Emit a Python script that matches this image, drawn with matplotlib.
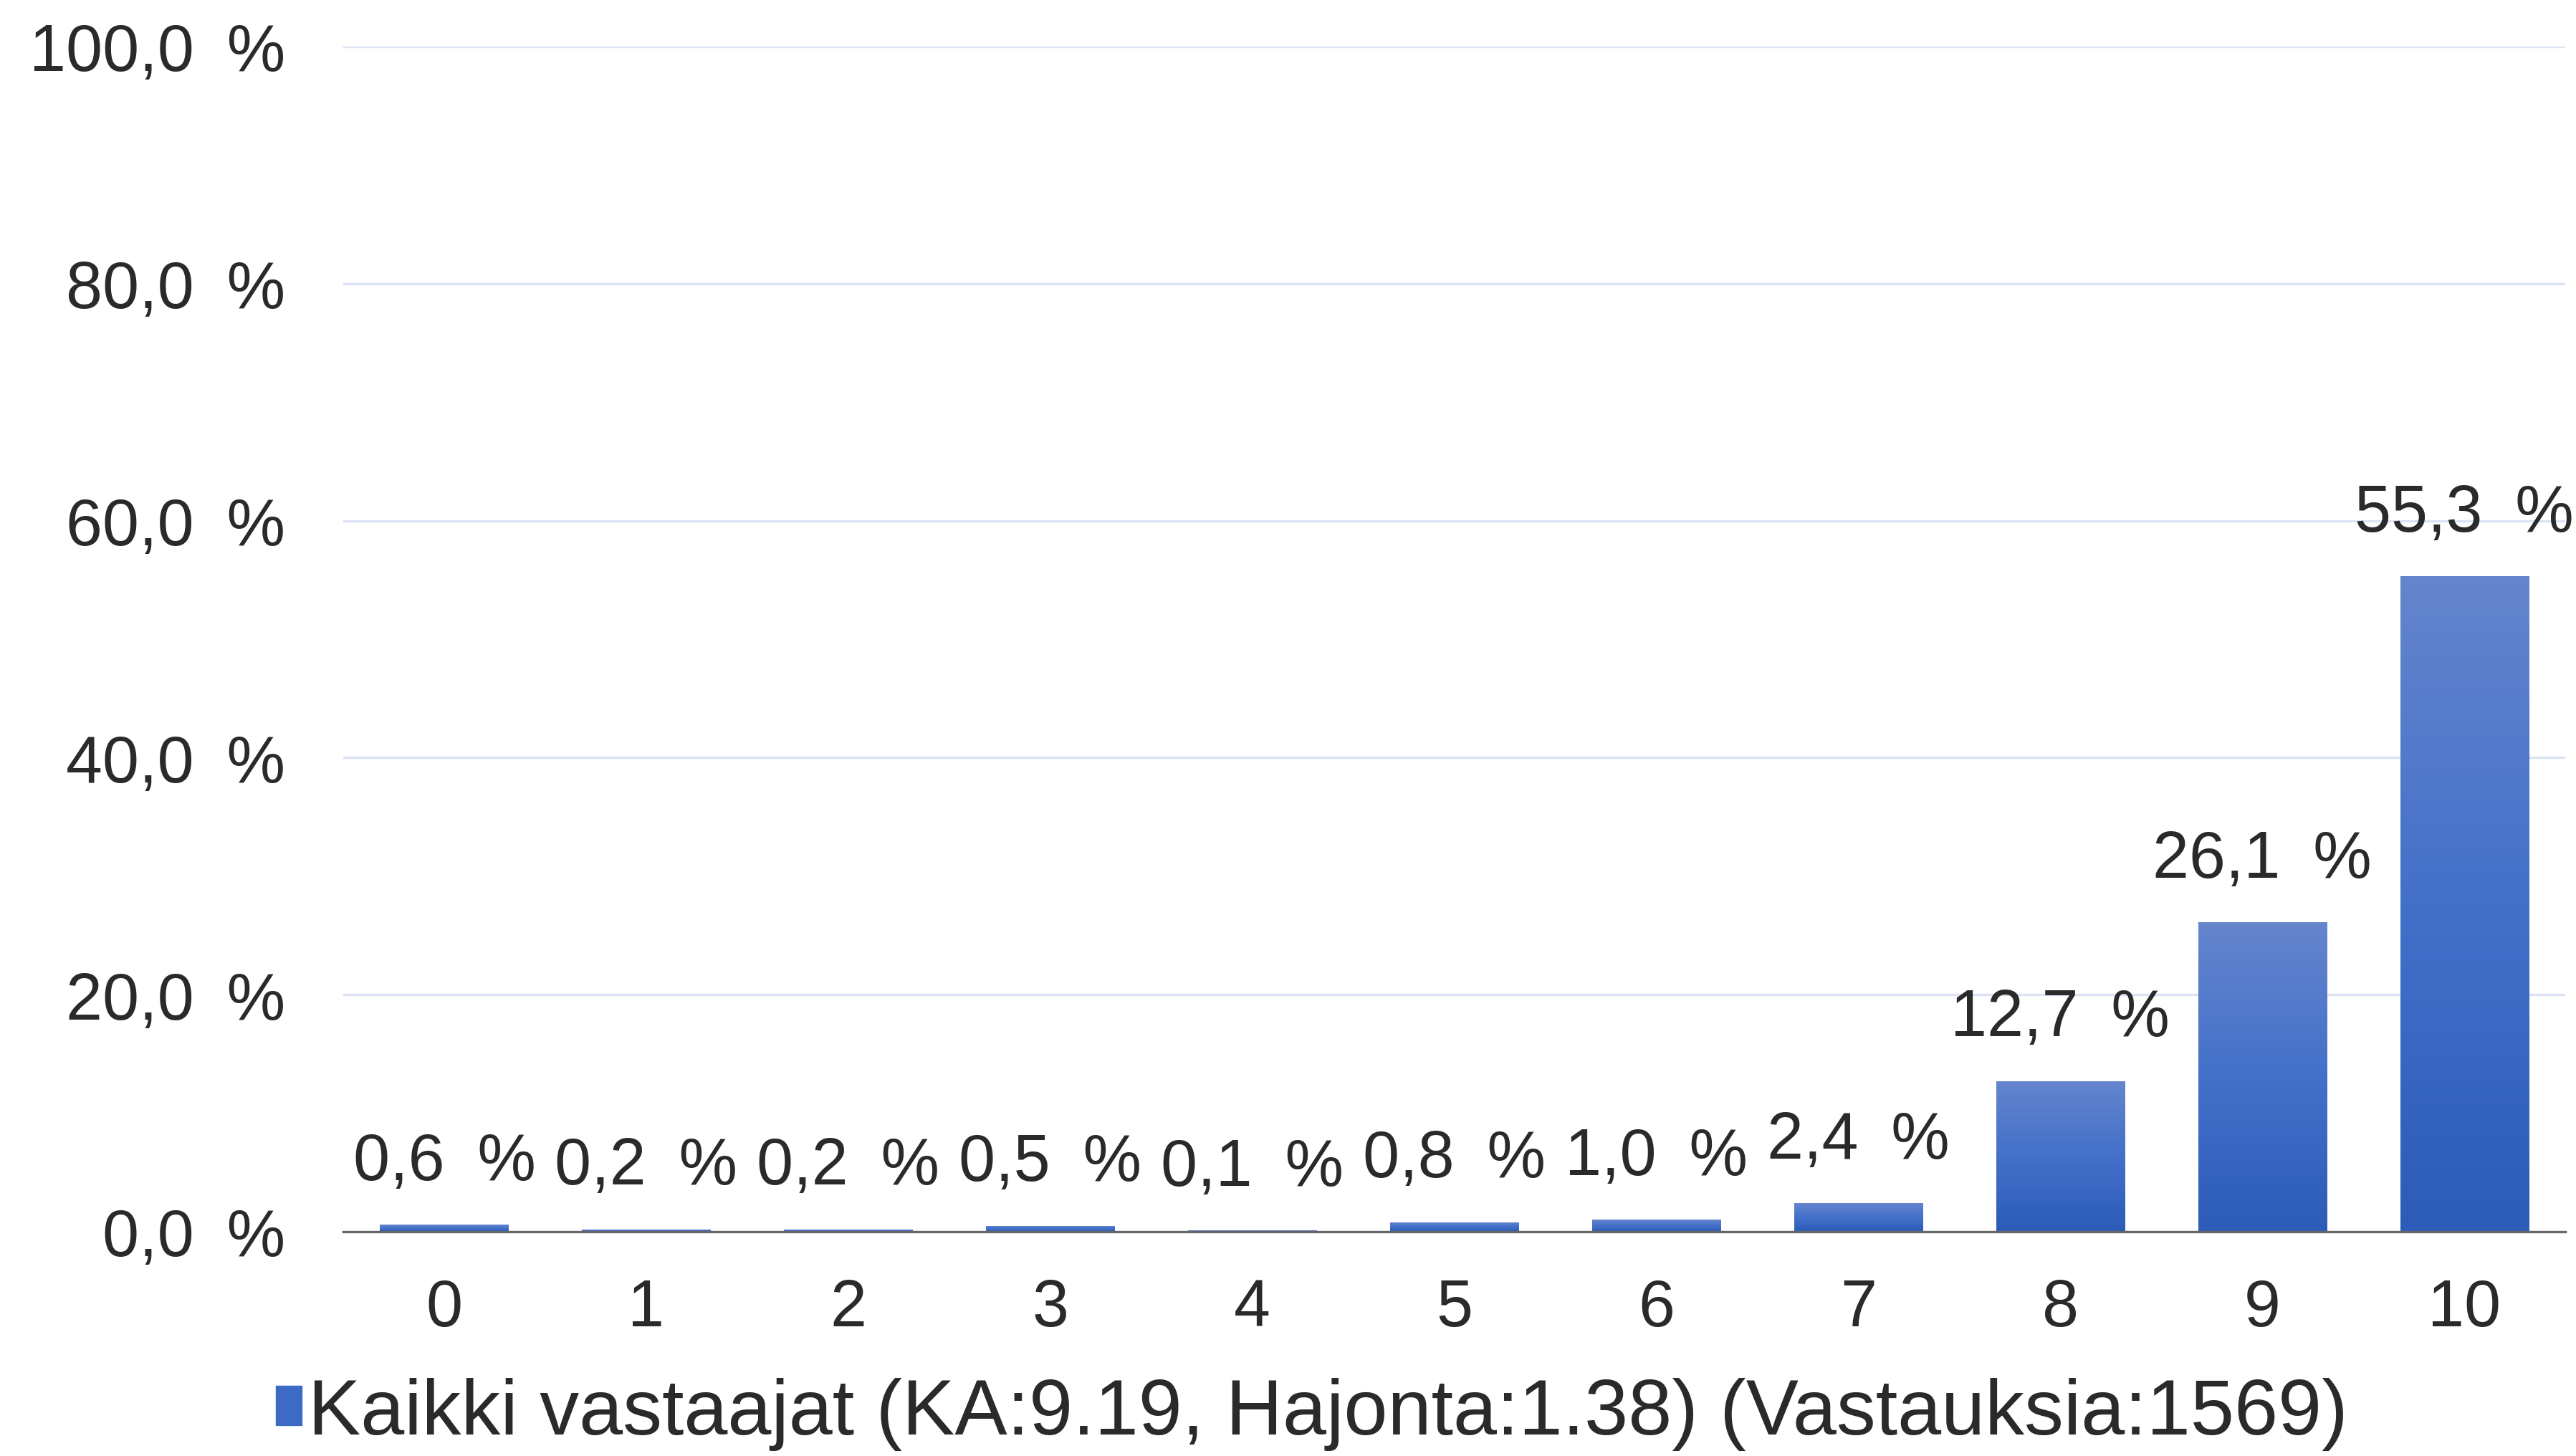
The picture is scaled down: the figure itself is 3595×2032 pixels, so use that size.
import numpy as np
import matplotlib
matplotlib.use("Agg")
import matplotlib.pyplot as plt
from matplotlib.colors import LinearSegmentedColormap

categories = ["0", "1", "2", "3", "4", "5", "6", "7", "8", "9", "10"]
values = [0.6, 0.2, 0.2, 0.5, 0.1, 0.8, 1.0, 2.4, 12.7, 26.1, 55.3]
yticks = [0, 20, 40, 60, 80, 100]
legend_label = "Kaikki vastaajat (KA:9.19, Hajonta:1.38) (Vastauksia:1569)"

plt.rcParams['font.family'] = ['Liberation Sans', 'DejaVu Sans']
txt = '#2a2a2a'
SP = '\u2002'  # wider gap before the percent sign, as in the original

def pct(v):
    return f"{v:.1f}".replace('.', ',') + SP + "%"

W, H = 3595, 2033
fig = plt.figure(figsize=(W / 100, H / 100), dpi=100)
ax = fig.add_axes([479 / W, 1 - 1720 / H, (3580 - 479) / W, (1720 - 66) / H])

x = np.arange(len(categories))
bars = ax.bar(x, values, width=0.635, color='#3d6ac4', zorder=3)

# vertical gradient inside each bar, lighter at top
cmap = LinearSegmentedColormap.from_list('g', ['#2c5cb8', '#4370c9', '#6585cd'])
grad = np.linspace(0, 1, 256).reshape(-1, 1)
for b in bars:
    x0, y0 = b.get_x(), b.get_y()
    im = ax.imshow(grad, cmap=cmap, origin='lower', aspect='auto',
                   extent=[x0, x0 + b.get_width(), y0, y0 + b.get_height()], zorder=3)
    im.set_clip_path(b)
    b.set_facecolor('none')

for xi, v in zip(x, values):
    ax.annotate(pct(v), (xi, v), xytext=(0, 32),
                textcoords='offset points', ha='center', va='bottom',
                fontsize=66, color=txt, zorder=4)

ax.set_xlim(-0.5, len(categories) - 0.5)
ax.set_ylim(0, 100)
ax.set_yticks(yticks)
ax.set_yticklabels([pct(t) for t in yticks])
ax.set_xticks(x)
ax.set_xticklabels(categories)
ax.tick_params(axis='y', length=0, pad=58, labelsize=66, labelcolor=txt)
ax.tick_params(axis='x', length=0, pad=46, labelsize=66, labelcolor=txt)
ax.grid(axis='y', color='#dbe3f4', linewidth=2.4, zorder=0)
ax.set_axisbelow(True)
for s in ['left', 'right', 'top']:
    ax.spines[s].set_visible(False)
ax.spines['bottom'].set_color('#666666')
ax.spines['bottom'].set_linewidth(2.4)
ax.spines['bottom'].set_zorder(5)

handle = plt.Rectangle((0, 0), 1, 1, color='#3d6ac4')
fig.legend([handle], [legend_label], loc='center left',
           bbox_to_anchor=(330 / W, 1 - 1974 / H), frameon=False,
           fontsize=79, handlelength=0.33, handleheight=0.4,
           handletextpad=0.08, labelcolor=txt, borderpad=0)

fig.savefig('out.png', dpi=100)
